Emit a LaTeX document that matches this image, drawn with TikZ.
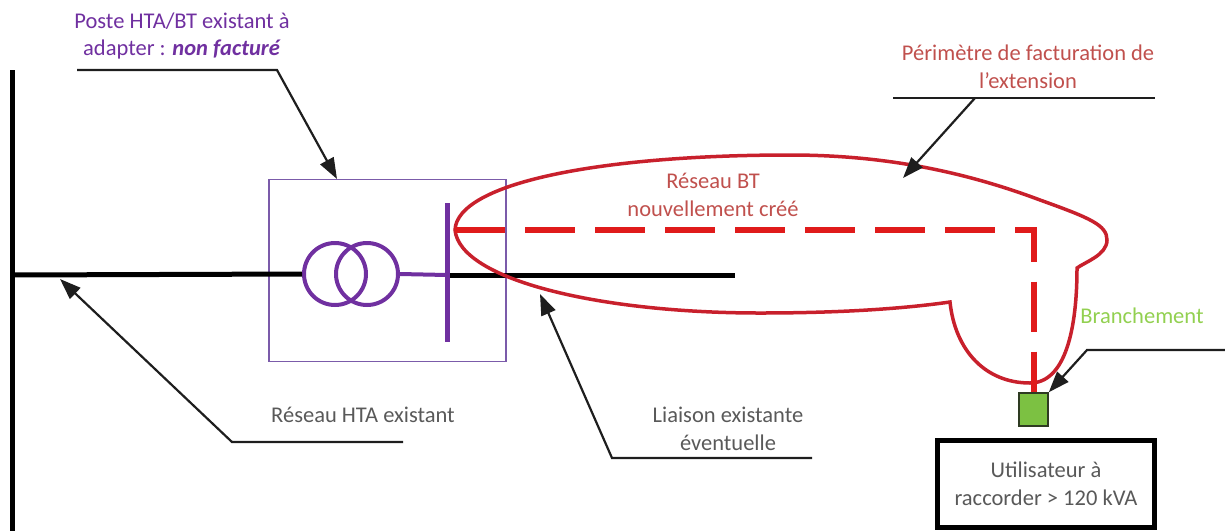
\documentclass[tikz,border=0pt]{standalone}
\usepackage{fontspec}
\setmainfont{Carlito}
\usetikzlibrary{arrows.meta,positioning}
\definecolor{poste}{HTML}{7030A0}
\definecolor{cadre}{HTML}{7B5BAA}
\definecolor{ext}{HTML}{C8202C}
\definecolor{pointille}{HTML}{E01B1B}
\definecolor{txtrouge}{HTML}{C0504D}
\definecolor{txtgris}{HTML}{595959}
\definecolor{txtvert}{HTML}{92D050}
\definecolor{vert}{HTML}{7CC142}
\definecolor{vertfonce}{HTML}{2E3B22}
\definecolor{trait}{HTML}{1E1E1E}
\begin{document}
\begin{tikzpicture}[x=1pt,y=-1pt,
    >={Triangle[length=21pt,width=15pt]},
    lbl/.style={font=\fontsize{22.5}{27.5}\selectfont,align=center,inner sep=0pt},
    callout/.style={draw=trait,line width=2.2pt},
    reseau/.style={draw=black,line width=5pt},
    tfo/.style={circle,draw=poste,line width=4pt,minimum size=62pt,inner sep=0pt},
    perim/.style={draw=ext,line width=3.5pt},
    bt/.style={draw=pointille,line width=6pt,dash pattern=on 50pt off 20pt}]
            \useasboundingbox (0,0) rectangle (1225,531);
            % poste HTA/BT
            \node[draw=cadre,line width=1.5pt,minimum width=237pt,minimum height=182pt,inner sep=0pt] (cadrePoste) at (387.5,270.5) {};
            \node[tfo] (tfoA) at (335,274) {};
            \node[tfo] (tfoB) at (367,274) {};
            \coordinate (busH) at (447,203);
            \coordinate (busB) at (447,342);
            \coordinate (busM) at (447,275);
            % reseau HTA et liaison existante
            \draw[reseau] (12,70) -- (12,531);
            \draw[reseau] (12,275) -- (tfoA.west);
            \draw[reseau] (busM) -- (735,275);
            \draw[draw=poste,line width=4pt] (tfoB.east) -- (busM);
            \draw[draw=poste,line width=5pt] (busH) -- (busB);
            % perimetre de facturation
            \draw[perim] (455,230) .. controls (457,183) and (600,155) .. (790,155)
                .. controls (880,155) and (960,170) .. (1040,200)
                .. controls (1090,218) and (1107,225) .. (1107,240)
                .. controls (1107,255) and (1085,262) .. (1077,268)
                .. controls (1077,330) and (1065,383) .. (1030,383)
                .. controls (985,383) and (955,350) .. (950,302)
                .. controls (880,312) and (800,313) .. (760,313)
                .. controls (600,313) and (460,280) .. (455,230) -- cycle;
            % utilisateur et branchement
            \node[draw=black,line width=5pt,minimum width=217pt,minimum height=87pt,lbl,text=txtgris] (util) at (1046,484) {Utilisateur à\\raccorder > 120 kVA};
            \node[draw=vertfonce,fill=vert,line width=1.5pt,minimum width=29pt,minimum height=33pt,inner sep=0pt] (brch) at (1033.5,409.5) {};
            \coordinate (depart) at (455,230);
            \coordinate (coin) at (1033.5,230);
            \draw[bt] (depart) -- (coin) -- (brch.north);
            % textes
            \node[lbl,text=poste] (txtPoste) at (182,36) {Poste HTA/BT existant à\\adapter : \textbf{\textit{non factur\'e}}};
            \node[lbl,text=txtrouge] (txtPerim) at (1028,67) {Périmètre de facturation de\\l’extension};
            \node[lbl,text=txtrouge] (txtBT) at (713,195) {Réseau BT\\nouvellement créé};
            \node[lbl,text=txtgris] (txtHTA) at (363,415) {Réseau HTA existant};
            \node[lbl,text=txtgris] (txtLiaison) at (728,429) {Liaison existante\\éventuelle};
            \node[lbl,text=txtvert] (txtBr) at (1142,316) {Branchement};
            % renvois
            \coordinate (posteA) at (77,70);
            \coordinate (posteB) at (277,70);
            \coordinate (posteTip) at (337,179);
            \draw[callout,->] (posteA) -- (posteB) -- (posteTip);
            \coordinate (perA) at (893,98);
            \coordinate (perB) at (1155,98);
            \coordinate (perK) at (975,98);
            \coordinate (perTip) at (903,178);
            \draw[callout] (perA) -- (perB);
            \draw[callout,->] (perK) -- (perTip);
            \coordinate (htaA) at (232,442);
            \coordinate (htaB) at (403,442);
            \coordinate (htaTip) at (60,279);
            \draw[callout,->] (htaB) -- (htaA) -- (htaTip);
            \coordinate (liaA) at (612,458);
            \coordinate (liaB) at (812,458);
            \coordinate (liaTip) at (540,294);
            \draw[callout,->] (liaB) -- (liaA) -- (liaTip);
            \coordinate (brA) at (1087,350);
            \coordinate (brB) at (1225,350);
            \draw[callout,->] (brB) -- (brA) -- (brch.north east);
\end{tikzpicture}
\end{document}
